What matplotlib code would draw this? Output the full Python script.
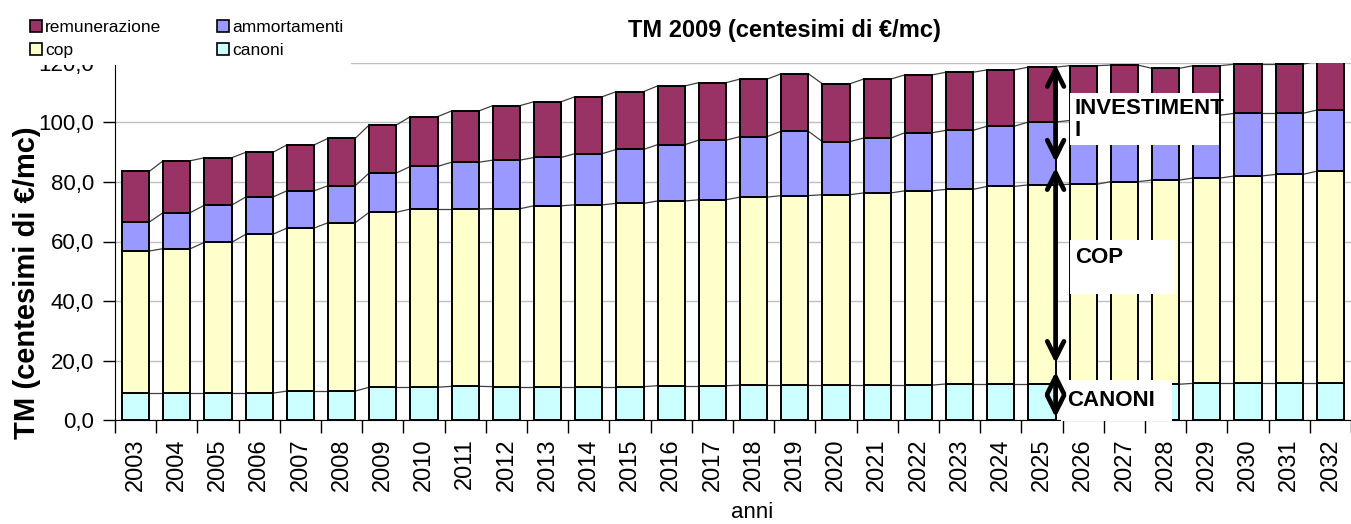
import matplotlib.pyplot as plt
import matplotlib.font_manager as fm
from matplotlib.patches import Patch, Rectangle
import numpy as np

anni = [str(y) for y in range(2003, 2033)]
canoni = [9.1, 9.1, 9.1, 9.1, 9.8, 9.8, 11.1, 11.1, 11.4, 11.3,
          11.3, 11.3, 11.3, 11.6, 11.6, 11.8, 11.8, 11.8, 11.8, 11.8,
          12.2, 12.2, 12.2, 12.1, 12.1, 12.1, 12.4, 12.4, 12.4, 12.4]
cop = [47.7, 48.5, 50.6, 53.3, 54.7, 56.5, 58.7, 59.8, 59.5, 59.7,
       60.7, 61.0, 61.5, 62.0, 62.4, 63.1, 63.6, 63.9, 64.5, 65.2,
       65.3, 66.3, 66.8, 67.1, 68.0, 68.5, 68.9, 69.6, 70.1, 71.2]
ammortamenti = [9.7, 12.1, 12.5, 12.5, 12.5, 12.4, 13.2, 14.3, 15.7, 16.3,
                16.2, 17.2, 18.1, 18.9, 20.0, 20.3, 21.6, 17.8, 18.4, 19.5,
                19.8, 20.2, 21.1, 21.4, 21.0, 21.0, 21.1, 21.0, 20.5, 20.5]
remunerazione = [17.0, 17.4, 15.9, 15.0, 15.4, 15.9, 16.1, 16.7, 17.2, 18.3,
                 18.7, 19.1, 19.4, 19.7, 19.3, 19.3, 19.3, 19.4, 19.8, 19.4,
                 19.5, 18.9, 18.4, 18.4, 18.1, 16.5, 16.6, 16.5, 16.5, 16.4]

series = [('canoni', canoni, '#CCFFFF'),
          ('cop', cop, '#FFFFCC'),
          ('ammortamenti', ammortamenti, '#9999FF'),
          ('remunerazione', remunerazione, '#993366')]

names = {f.name for f in fm.fontManager.ttflist}
base = 'Liberation Sans' if 'Liberation Sans' in names else 'DejaVu Sans'
narrow = 'Liberation Sans Narrow' if 'Liberation Sans Narrow' in names else base
plt.rcParams['font.family'] = [base, 'DejaVu Sans']

W, H = 1351, 524
fig = plt.figure(figsize=(W / 100, H / 100), dpi=100)
ax = fig.add_axes([115 / W, 1 - 420.3 / H, 1 - 115 / W, (420.3 - 62.7) / H])

x = np.arange(len(anni))
bw = 0.66
bottom = np.zeros(len(anni))
handles = {}
for name, vals, col in series:
    vals = np.array(vals)
    ax.bar(x, vals, bw, bottom=bottom, color=col, edgecolor='black', linewidth=1.4, zorder=3)
    top = bottom + vals
    # excel-style series lines between bar tops
    for i in range(len(x) - 1):
        ax.plot([x[i] + bw / 2, x[i + 1] - bw / 2], [top[i], top[i + 1]],
                color='#404040', lw=0.9, zorder=2)
    handles[name] = Patch(facecolor=col, edgecolor='black', linewidth=1.2)
    bottom = top

ax.set_xlim(-0.5, (W - 115) / 41.4 - 0.5)
ax.set_ylim(0, 120)
ax.set_yticks(np.arange(0, 121, 20))
ax.set_yticklabels([('%.1f' % v).replace('.', ',') for v in np.arange(0, 121, 20)], fontsize=16)
ax.yaxis.grid(True, color='#c0c0c0', lw=1, zorder=0)
ax.set_axisbelow(True)
ax.set_xticks(x)
ax.set_xticklabels(anni, rotation=90, fontsize=17)
ax.set_xticks(np.arange(-0.5, len(anni)), minor=True)
ax.tick_params(axis='x', which='major', length=0, pad=13)
ax.tick_params(axis='x', which='minor', length=9, width=1, direction='out')
ax.tick_params(axis='y', length=9, width=1, pad=6, direction='out')
for s in ['top', 'right']:
    ax.spines[s].set_visible(False)
ax.spines['left'].set_color('black')
ax.spines['bottom'].set_color('black')

# arrows and labels
arr_x = 22.33
for y0, y1 in [(120.3, 85.7), (85.7, 18.2), (17.2, 0.0)]:
    ax.annotate('', xy=(arr_x, y1), xytext=(arr_x, y0),
                arrowprops=dict(arrowstyle='<->', lw=3.4, color='black', mutation_scale=30),
                zorder=6, annotation_clip=False)

boxes = [(22.69, 92.4, 3.6, 17.4), (22.69, 42.5, 2.53, 18.1), (22.45, -0.3, 2.7, 13.8)]
for bx, by, bwid, bh in boxes:
    ax.add_patch(Rectangle((bx, by), bwid, bh, facecolor='white', edgecolor='none',
                           zorder=5, clip_on=False))
ax.text(22.8, 108.0, 'INVESTIMENT\nI', fontsize=16, fontweight='bold', va='top',
        ha='left', linespacing=1.05, zorder=7)
ax.text(22.8, 54.5, 'COP', fontsize=16, fontweight='bold', va='center', ha='left', zorder=7)
ax.text(22.62, 6.8, 'CANONI', fontsize=16, fontweight='bold', va='center', ha='left', zorder=7)

fig.text(784 / W, 1 - 30 / H, 'TM 2009 (centesimi di €/mc)', fontsize=17,
         fontweight='bold', ha='center', va='center', family=[narrow, 'DejaVu Sans'])
fig.text(27 / W, 1 - 283 / H, 'TM (centesimi di €/mc)', fontsize=21, fontweight='bold',
         rotation=90, ha='center', va='center')
fig.text(752 / W, 1 - 512 / H, 'anni', fontsize=16, ha='center', va='center',
         family=[narrow, 'DejaVu Sans'])

leg = fig.legend([handles['remunerazione'], handles['cop'], handles['ammortamenti'], handles['canoni']],
                 ['remunerazione', 'cop', 'ammortamenti', 'canoni'],
                 ncol=2, loc='upper left', bbox_to_anchor=(14 / W, 1 - 4 / H),
                 frameon=True, facecolor='white', edgecolor='none', framealpha=1,
                 fancybox=False, handlelength=0.7, handleheight=0.7, borderpad=0.4,
                 handletextpad=0.2, columnspacing=3.2, labelspacing=0.45,
                 prop={'family': [narrow, 'DejaVu Sans'], 'size': 12.5})

fig.savefig('out.png', dpi=100)
